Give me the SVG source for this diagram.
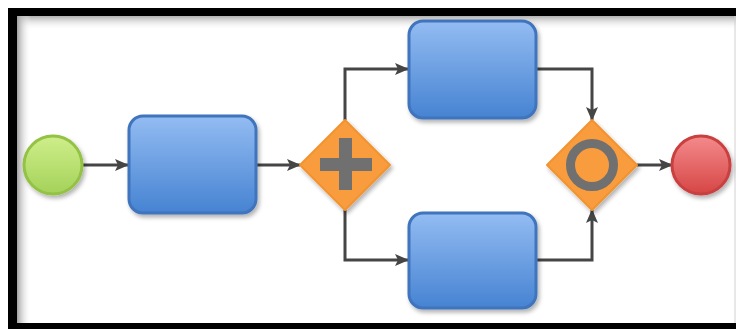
<svg xmlns="http://www.w3.org/2000/svg" width="736" height="329" viewBox="0 0 736 329">
<defs>
<linearGradient id="gBlue" x1="0" y1="0" x2="0" y2="1">
<stop offset="0" stop-color="#93bcf2"/><stop offset="1" stop-color="#4683d2"/>
</linearGradient>
<linearGradient id="gGreen" x1="0" y1="0" x2="0" y2="1">
<stop offset="0" stop-color="#cfee8a"/><stop offset="1" stop-color="#a4d25a"/>
</linearGradient>
<linearGradient id="gRed" x1="0" y1="0" x2="0" y2="1">
<stop offset="0" stop-color="#f48a8b"/><stop offset="1" stop-color="#d64646"/>
</linearGradient>
<linearGradient id="gTop" x1="0" y1="0" x2="0" y2="1">
<stop offset="0" stop-color="#b0b0b0"/><stop offset="1" stop-color="#ffffff" stop-opacity="0"/>
</linearGradient>
<linearGradient id="gLeft" x1="0" y1="0" x2="1" y2="0">
<stop offset="0" stop-color="#a0a0a0"/><stop offset="1" stop-color="#ffffff" stop-opacity="0"/>
</linearGradient>
<filter id="sh" x="-20%" y="-20%" width="150%" height="150%">
<feDropShadow dx="2" dy="3" stdDeviation="2" flood-color="#000" flood-opacity="0.3"/>
</filter>
<marker id="arr" viewBox="0 0 14 12" refX="13" refY="6" markerWidth="14" markerHeight="12" markerUnits="userSpaceOnUse" orient="auto">
<path d="M0,0 L14,6 L0,12 L3,6 Z" fill="#454545"/>
</marker>
</defs>
<style>
.task{fill:url(#gBlue);stroke:#3f74bd;stroke-width:3;filter:url(#sh)}
.gw{fill:#f89c3e;stroke:#f3932e;stroke-width:2;stroke-linejoin:round;filter:url(#sh)}
.con{fill:none;stroke:#454545;stroke-width:3;marker-end:url(#arr)}
</style>
<rect x="0" y="0" width="736" height="329" fill="#ffffff"/>
<rect x="17" y="16" width="719" height="14" fill="url(#gTop)"/>
<rect x="17" y="16" width="14" height="307" fill="url(#gLeft)"/>
<rect x="8" y="8" width="728" height="8" fill="#000"/>
<rect x="8" y="8" width="9" height="321" fill="#000"/>
<rect x="8" y="323" width="728" height="6" fill="#000"/>
<line x1="735" y1="16" x2="735" y2="323" stroke="#d0d0d0" stroke-width="1"/>
<g id="connectors">
<path class="con" d="M83,165 H128"/>
<path class="con" d="M257,165 H300"/>
<path class="con" d="M345,120 V69 H408"/>
<path class="con" d="M345,210 V260 H408"/>
<path class="con" d="M537,69 H592 V120"/>
<path class="con" d="M537,260 H592 V210"/>
<path class="con" d="M637,165 H672"/>
</g>
<g id="start"><circle cx="53" cy="165" r="29" fill="url(#gGreen)" stroke="#93c244" stroke-width="3" filter="url(#sh)"/></g>
<g id="task1"><rect class="task" x="129" y="116" width="127" height="97" rx="14"/></g>
<g id="gateway1">
<path class="gw" d="M345,120 L390,165 L345,210 L300,165 Z"/>
<rect x="339" y="138" width="13" height="52" fill="#707070"/>
<rect x="320" y="158" width="52" height="13" fill="#707070"/>
</g>
<g id="task2"><rect class="task" x="409" y="21" width="127" height="97" rx="14"/></g>
<g id="task3"><rect class="task" x="409" y="213" width="127" height="95" rx="14"/></g>
<g id="gateway2">
<path class="gw" d="M592,120 L637,165 L592,210 L547,165 Z"/>
<circle cx="592" cy="165" r="21.5" fill="none" stroke="#707070" stroke-width="9"/>
</g>
<g id="end"><circle cx="701" cy="165" r="29" fill="url(#gRed)" stroke="#c94040" stroke-width="3" filter="url(#sh)"/></g>
</svg>
